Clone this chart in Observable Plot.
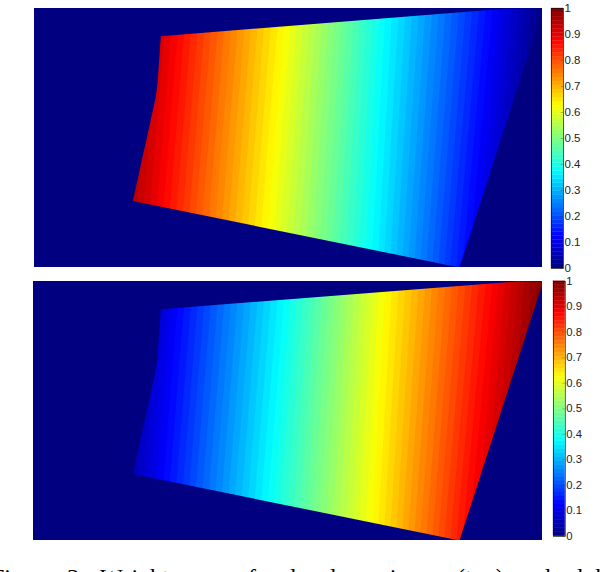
<!DOCTYPE html>
<html>
<head>
<meta charset="utf-8">
<script src="https://cdn.jsdelivr.net/npm/d3@7"></script>
<script src="https://cdn.jsdelivr.net/npm/@observablehq/plot@0.6"></script>
<style>
html,body{margin:0;padding:0;background:#fff;width:604px;height:572px;overflow:hidden}
.box{position:absolute}
.box svg{display:block;overflow:visible}
#caption span{position:absolute;top:0;white-space:nowrap;font:24px/28px "Liberation Serif",serif;color:#000}
</style>
</head>
<body>
<div id="p1" class="box" style="left:34px;top:8px"></div>
<div id="c1" class="box" style="left:551px;top:0px"></div>
<div id="p2" class="box" style="left:33px;top:281px"></div>
<div id="c2" class="box" style="left:553px;top:273px"></div>
<div id="caption"></div>
<script>
// Colormap stops (jet)
const colorStops = [0, 0.125, 0.375, 0.625, 0.875, 1];
const colorNames = ["#000080", "#0000ff", "#00ffff", "#ffff00", "#ff0000", "#800000"];
const tickValues = [0, 0.1, 0.2, 0.3, 0.4, 0.5, 0.6, 0.7, 0.8, 0.9, 1];

// Where each colour-level boundary (k/64) crosses the top row (y=8) and bottom row (y=267) of the image
const isoTop = [543,536.6,530.2,523.8,517.4,511,504.6,498.2,492,485.3,478.6,471.9,465.2,458.5,451.9,445.2,
  438.5,431.8,425.1,418.4,411.8,405.1,398.4,391.7,385,378.8,372.5,366.3,360,353.8,347.5,341.3,
  335,328.8,322.5,316.3,310,303.8,297.5,291.3,285,278.4,271.8,265.1,258.5,251.9,245.3,238.6,
  232,225.4,218.8,212.1,205.5,198.9,192.3,185.6,179,172.4,165.8,159.1,152.5,145.9,139.3,132.6,126];
const isoBottom = [525,517.9,510.8,503.6,496.5,489.4,482.3,475.1,468,461.9,455.9,449.8,443.8,437.7,431.6,425.6,
  419.5,413.4,407.4,401.3,395.3,389.2,383.1,377.1,371,364.3,357.6,350.9,344.3,337.6,330.9,324.2,
  317.5,310.8,304.1,297.4,290.8,284.1,277.4,270.7,264,257.4,250.8,244.1,237.5,230.9,224.3,217.6,
  211,204.4,197.8,191.1,184.5,177.9,171.3,164.6,158,151.4,144.8,138.1,131.5,124.9,118.3,111.6,105];

// Image outline (warped region), then the surrounding frame, traced as one ring
const outlineX1 = [160.3, 507, 542, 542, 459, 132.3, 155, 157, 160.3];
const outlineX2 = [160.3, 517, 542, 542, 459, 132.3, 155, 157, 160.3];
const outlineY  = [35.7, 8, 8, 10, 267, 200.5, 98, 83, 35.7];
const frameX = [160.3, 30, 30, 546, 546, 30, 30, 160.3];
const frameY = [35.7, 35.7, 270, 270, 4, 4, 35.7, 35.7];

const captionWords = ["Figure", "3:", "Weight", "maps", "for", "local", "regions", "(top)", "and", "global"];
const captionLefts = [-9, 67, 100, 190, 248, 290, 359, 457, 516, 565];

const color = {type: "linear", domain: colorStops, range: colorNames, interpolate: "rgb"};

function bandVertices(flip) {
  const rows = [];
  for (let k = 0; k < isoTop.length - 1; k++) {
    const v = flip ? 1 - (k + 0.5) / 64 : (k + 0.5) / 64;
    rows.push({band: k, v, x: isoTop[k], y: 8}, {band: k, v, x: isoTop[k + 1], y: 8},
              {band: k, v, x: isoBottom[k + 1], y: 267}, {band: k, v, x: isoBottom[k], y: 267});
  }
  return rows;
}

function panel(flip, left, w, outlineX) {
  const maskX = [...outlineX, ...frameX], maskY = [...outlineY, ...frameY];
  const mask = maskX.map((x, i) => ({x, y: maskY[i]}));
  return Plot.plot({
    width: w, height: 259, margin: 0,
    x: {domain: [left, left + w], range: [0, w], axis: null},
    y: {domain: [8, 267], range: [0, 259], axis: null},
    color,
    style: {background: "#000080"},
    marks: [
      Plot.line(bandVertices(flip), {x: "x", y: "y", z: "band", fill: "v", stroke: "v", strokeWidth: 1.6, clip: true}),
      Plot.line(mask, {x: "x", y: "y", fill: "#000080", stroke: "none", clip: true})
    ]
  });
}

function colorbar(h) {
  const cells = d3.range(64).map(k => ({y1: k / 64, y2: (k + 1) / 64, v: (k + 0.5) / 64}));
  return Plot.plot({
    width: 52, height: h + 16, marginTop: 8, marginBottom: 8, marginLeft: 0, marginRight: 40,
    x: {domain: [0, 1], axis: null},
    y: {domain: [0, 1]},
    color,
    style: {background: "transparent", fontFamily: "'Liberation Sans',Arial,sans-serif", fontSize: "11.5px", color: "#222"},
    marks: [
      Plot.rectY(cells, {x1: 0, x2: 1, y1: "y1", y2: "y2", fill: "v", stroke: "v", strokeWidth: 0.3}),
      Plot.ruleY(tickValues, {x1: 0.8, x2: 1, stroke: "#333", strokeOpacity: 0.45, strokeWidth: 0.7}),
      Plot.frame({stroke: "#111", strokeWidth: 0.7}),
      Plot.axisY({anchor: "right", ticks: tickValues, tickSize: 0, tickPadding: 1, label: null, tickFormat: d => String(d)})
    ]
  });
}

document.getElementById("p1").append(panel(false, 34, 508, outlineX1));
document.getElementById("p2").append(panel(true, 33, 509, outlineX2));
document.getElementById("c1").append(colorbar(260));
document.getElementById("c2").append(colorbar(260));

const cap = document.getElementById("caption");
cap.style.cssText = "position:absolute;left:0;top:563px;width:604px;height:9px;overflow:hidden";
captionWords.forEach((w, i) => {
  const s = document.createElement("span");
  s.textContent = w;
  s.style.left = captionLefts[i] + "px";
  cap.append(s);
});
</script>
</body>
</html>
